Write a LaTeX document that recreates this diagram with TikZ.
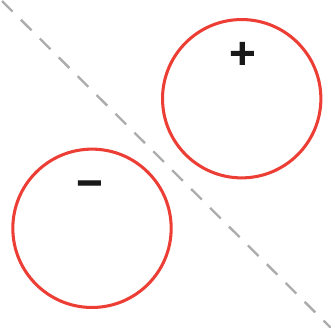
\documentclass[tikz,border=0pt]{standalone}
\usepackage{fontspec}
\setsansfont{DejaVu Sans}
\newfontfamily\signfont[RawFeature={embolden=3}]{DejaVu Sans Bold}

\begin{document}
\begin{tikzpicture}[x=0.03cm,y=-0.03cm,line cap=round,
  ring/.style={circle,draw=ringred,line width=2.6pt,minimum size=4.75cm,inner sep=0pt},
  sign/.style={font=\signfont\fontsize{30}{30}\selectfont,text=black!90,inner sep=0pt},
  divider/.style={draw=divgray,line width=2pt,line cap=butt,dash pattern=on 0.45cm off 0.35cm}]
  \definecolor{ringred}{RGB}{236,62,52}
  \definecolor{divgray}{RGB}{172,172,172}
  \useasboundingbox (0,0) rectangle (331,327);

  % dashed divider from top left to bottom right
  \coordinate (divtop) at (2,1);
  \coordinate (divbot) at (331,328);
  \draw[divider] (divtop) -- (divbot);

  % the two charged spheres
  \node[ring] (posring) at (241.7,98.7) {};
  \node[ring] (negring) at (92,228.3) {};

  % signs
  \node[sign] (plus) at (242.3,53.3) {+};
  \node[sign] (minus) at (89.3,187.5) {−};
\end{tikzpicture}
\end{document}
